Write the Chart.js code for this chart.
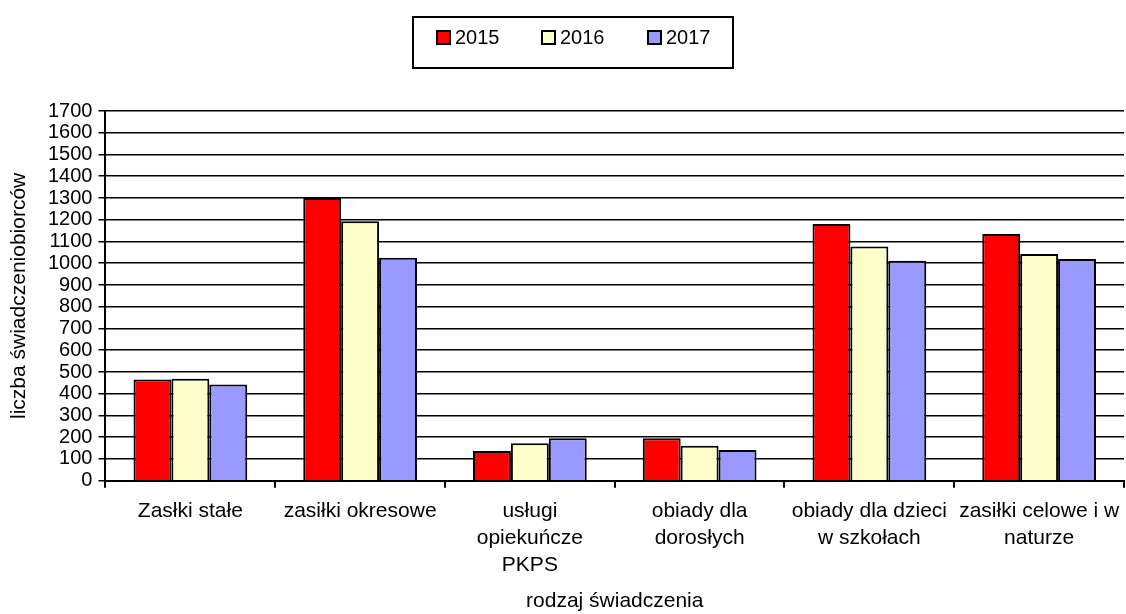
<!DOCTYPE html>
<html><head><meta charset="utf-8">
<script src="https://cdn.jsdelivr.net/npm/chart.js@4.4.0/dist/chart.umd.min.js"></script>
<style>html,body{margin:0;padding:0;background:#fff;}#wrap{width:1126px;height:614px;}</style>
</head><body><div id="wrap"><canvas id="c" width="1126" height="614"></canvas></div>
<script>
const categories = [
  ["Zasłki stałe"],
  ["zasiłki okresowe"],
  ["usługi", "opiekuńcze", "PKPS"],
  ["obiady dla", "dorosłych"],
  ["obiady dla dzieci", "w szkołach"],
  ["zasiłki celowe i w", "naturze"]
];
const seriesLabels = ["2015", "2016", "2017"];
const values2015 = [465, 1300, 137, 195, 1180, 1134];
const values2016 = [469, 1193, 172, 161, 1077, 1043];
const values2017 = [442, 1025, 195, 141, 1011, 1020];
const colors = ["#FF0000", "#FFFFCC", "#9999FF"];
const yAxisTitle = "liczba świadczeniobiorców";
const xAxisTitle = "rodzaj świadczenia";

const FONT = "'Liberation Sans', Arial, sans-serif";

const decorations = {
  id: 'decorations',
  afterDraw(chart) {
    const ctx = chart.ctx;
    const ca = chart.chartArea;
    ctx.save();
    // legend frame and items
    ctx.strokeStyle = '#000';
    ctx.lineWidth = 2;
    ctx.strokeRect(413, 17, 320, 51);
    ctx.font = "20px " + FONT;
    ctx.textBaseline = 'middle';
    const itemX = [437, 542, 648];
    chart.data.datasets.forEach((ds, i) => {
      const bx = itemX[i], by = 31;
      ctx.fillStyle = ds.backgroundColor;
      ctx.fillRect(bx, by, 13, 13);
      ctx.lineWidth = 2;
      ctx.strokeRect(bx, by, 13, 13);
      ctx.fillStyle = '#000';
      ctx.fillText(ds.label, bx + 18, by + 7);
    });
    // axis titles
    ctx.fillStyle = '#000';
    ctx.textAlign = 'center';
    ctx.font = "21px " + FONT;
    ctx.fillText(xAxisTitle, (ca.left + ca.right) / 2, 601);
    ctx.translate(19, (ca.top + ca.bottom) / 2);
    ctx.rotate(-Math.PI / 2);
    ctx.fillText(yAxisTitle, 0, 0);
    ctx.restore();
  }
};

new Chart(document.getElementById('c'), {
  type: 'bar',
  data: {
    labels: categories,
    datasets: [
      { label: seriesLabels[0], data: values2015, backgroundColor: colors[0] },
      { label: seriesLabels[1], data: values2016, backgroundColor: colors[1] },
      { label: seriesLabels[2], data: values2017, backgroundColor: colors[2] }
    ].map(d => Object.assign(d, { borderColor: '#000', borderWidth: 2, categoryPercentage: 0.67, barPercentage: 1.0 }))
  },
  options: {
    responsive: false,
    animation: false,
    devicePixelRatio: 1,
    layout: { padding: { top: 111, right: 2, left: 42, bottom: 25 } },
    plugins: { legend: { display: false }, tooltip: { enabled: false } },
    scales: {
      x: {
        afterFit(scale) { scale.paddingLeft = 0; scale.paddingRight = 0; },
        grid: { offset: true, drawOnChartArea: false, color: '#000', lineWidth: 2, tickLength: 7, tickColor: '#000' },
        border: { color: '#000', width: 2 },
        ticks: { color: '#000', font: { family: FONT, size: 21, lineHeight: 1.29 }, maxRotation: 0, autoSkip: false, padding: 10 },
        title: { display: false }
      },
      y: {
        min: 0, max: 1700,
        ticks: { stepSize: 100, autoSkip: false, color: '#000', font: { family: FONT, size: 20 }, padding: 6, callback: v => String(v) },
        grid: { color: '#000', lineWidth: 1.5, tickLength: 7, tickColor: '#000' },
        border: { color: '#000', width: 2 },
        title: { display: false }
      }
    }
  },
  plugins: [decorations]
});
</script></body></html>
